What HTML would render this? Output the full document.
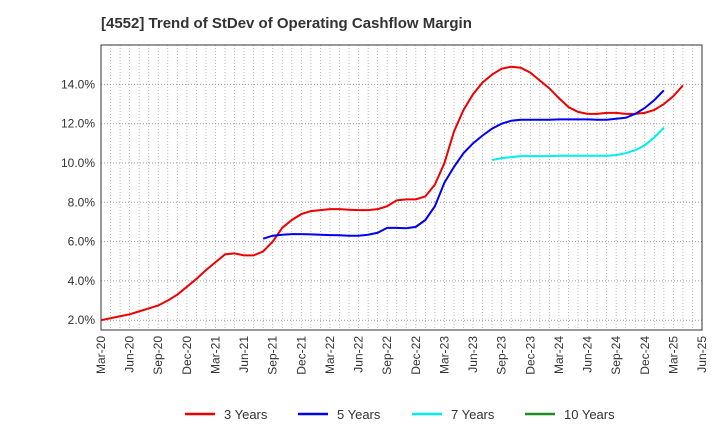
<!DOCTYPE html>
<html><head><meta charset="utf-8"><style>
body{margin:0;background:#fff;font-family:"Liberation Sans",sans-serif}
</style></head><body>
<svg id="c" width="720" height="440" xmlns="http://www.w3.org/2000/svg">
<text x="101" y="28" font-size="15" font-weight="bold" fill="#333">[4552]  Trend of StDev of Operating Cashflow Margin</text>
<g id="grid"></g><g id="axes"></g><g id="series"></g>
<g id="legend"></g>
</svg>
<script>
const xTicks=["Mar-20","Jun-20","Sep-20","Dec-20","Mar-21","Jun-21","Sep-21","Dec-21","Mar-22","Jun-22","Sep-22","Dec-22","Mar-23","Jun-23","Sep-23","Dec-23","Mar-24","Jun-24","Sep-24","Dec-24","Mar-25","Jun-25"];
const yTicks=[2,4,6,8,10,12,14];
const s3start=0;
const s3=[2.0,2.1,2.2,2.3,2.45,2.6,2.75,3.0,3.3,3.7,4.1,4.55,4.95,5.35,5.4,5.3,5.3,5.5,6.0,6.7,7.1,7.4,7.55,7.6,7.65,7.65,7.62,7.6,7.6,7.65,7.8,8.1,8.15,8.15,8.3,8.9,10.0,11.6,12.7,13.5,14.1,14.5,14.8,14.9,14.85,14.6,14.2,13.8,13.3,12.85,12.6,12.5,12.5,12.55,12.55,12.5,12.5,12.55,12.7,13.0,13.4,13.95];
const s5start=17;
const s5=[6.15,6.3,6.35,6.38,6.38,6.37,6.35,6.33,6.32,6.3,6.3,6.35,6.45,6.7,6.7,6.68,6.75,7.1,7.8,9.0,9.8,10.5,11.0,11.4,11.75,12.0,12.15,12.2,12.2,12.2,12.2,12.22,12.22,12.22,12.22,12.2,12.2,12.25,12.3,12.5,12.8,13.2,13.7];
const s7start=41;
const s7=[10.15,10.25,10.3,10.35,10.35,10.35,10.35,10.37,10.37,10.37,10.37,10.37,10.37,10.4,10.5,10.65,10.9,11.3,11.8];
const L=101,R=702,T=45,B=330;
const X=m=>L+m*(R-L)/63;
const Y=v=>359.5-v*19.65;
const ns="http://www.w3.org/2000/svg";
function mk(t,a,p){const e=document.createElementNS(ns,t);for(const k in a)e.setAttribute(k,a[k]);p.appendChild(e);return e;}
const g=document.getElementById('grid'),ax=document.getElementById('axes'),se=document.getElementById('series'),lg=document.getElementById('legend');
for(let m=1;m<63;m++){const l=mk('line',{x1:X(m),x2:X(m),y1:T,y2:B,stroke:'#aaa','stroke-dasharray':'1,2','stroke-width':0.8},g);
}
yTicks.forEach(v=>{const l=mk('line',{x1:L,x2:R,y1:Y(v),y2:Y(v),stroke:'#999','stroke-dasharray':'1,2'},g);

const t=mk('text',{x:L-6,y:Y(v)+4,'text-anchor':'end','font-size':12,fill:'#333'},ax);t.textContent=v.toFixed(1)+'%';
});
const fr=mk('rect',{x:L,y:T,width:R-L,height:B-T,fill:'none',stroke:'#333'},ax);

xTicks.forEach((s,i)=>{const x=X(i*3);const t=mk('text',{transform:`translate(${x+4},${B+6}) rotate(-90)`,'text-anchor':'end','font-size':12,fill:'#333'},ax);t.textContent=s;
});
function line(arr,st,col,name){const p=mk('polyline',{points:arr.map((v,i)=>X(st+i)+','+Y(v)).join(' '),fill:'none',stroke:col,'stroke-width':2},se);
}
line(s3,s3start,'#ee0000','series-3-years');
line(s5,s5start,'#0000ee','series-5-years');
line(s7,s7start,'#00eeee','series-7-years');
[["3 Years","#ee0000",185],["5 Years","#0000ee",298],["7 Years","#00eeee",412],["10 Years","#228b22",525]].forEach(([n,c,x])=>{
const gg=mk('g',{},lg);
mk('line',{x1:x,x2:x+30,y1:414,y2:414,stroke:c,'stroke-width':2.5},gg);
const t=mk('text',{x:x+39,y:419,'font-size':13,fill:'#333'},gg);t.textContent=n;});
</script>
</body></html>
